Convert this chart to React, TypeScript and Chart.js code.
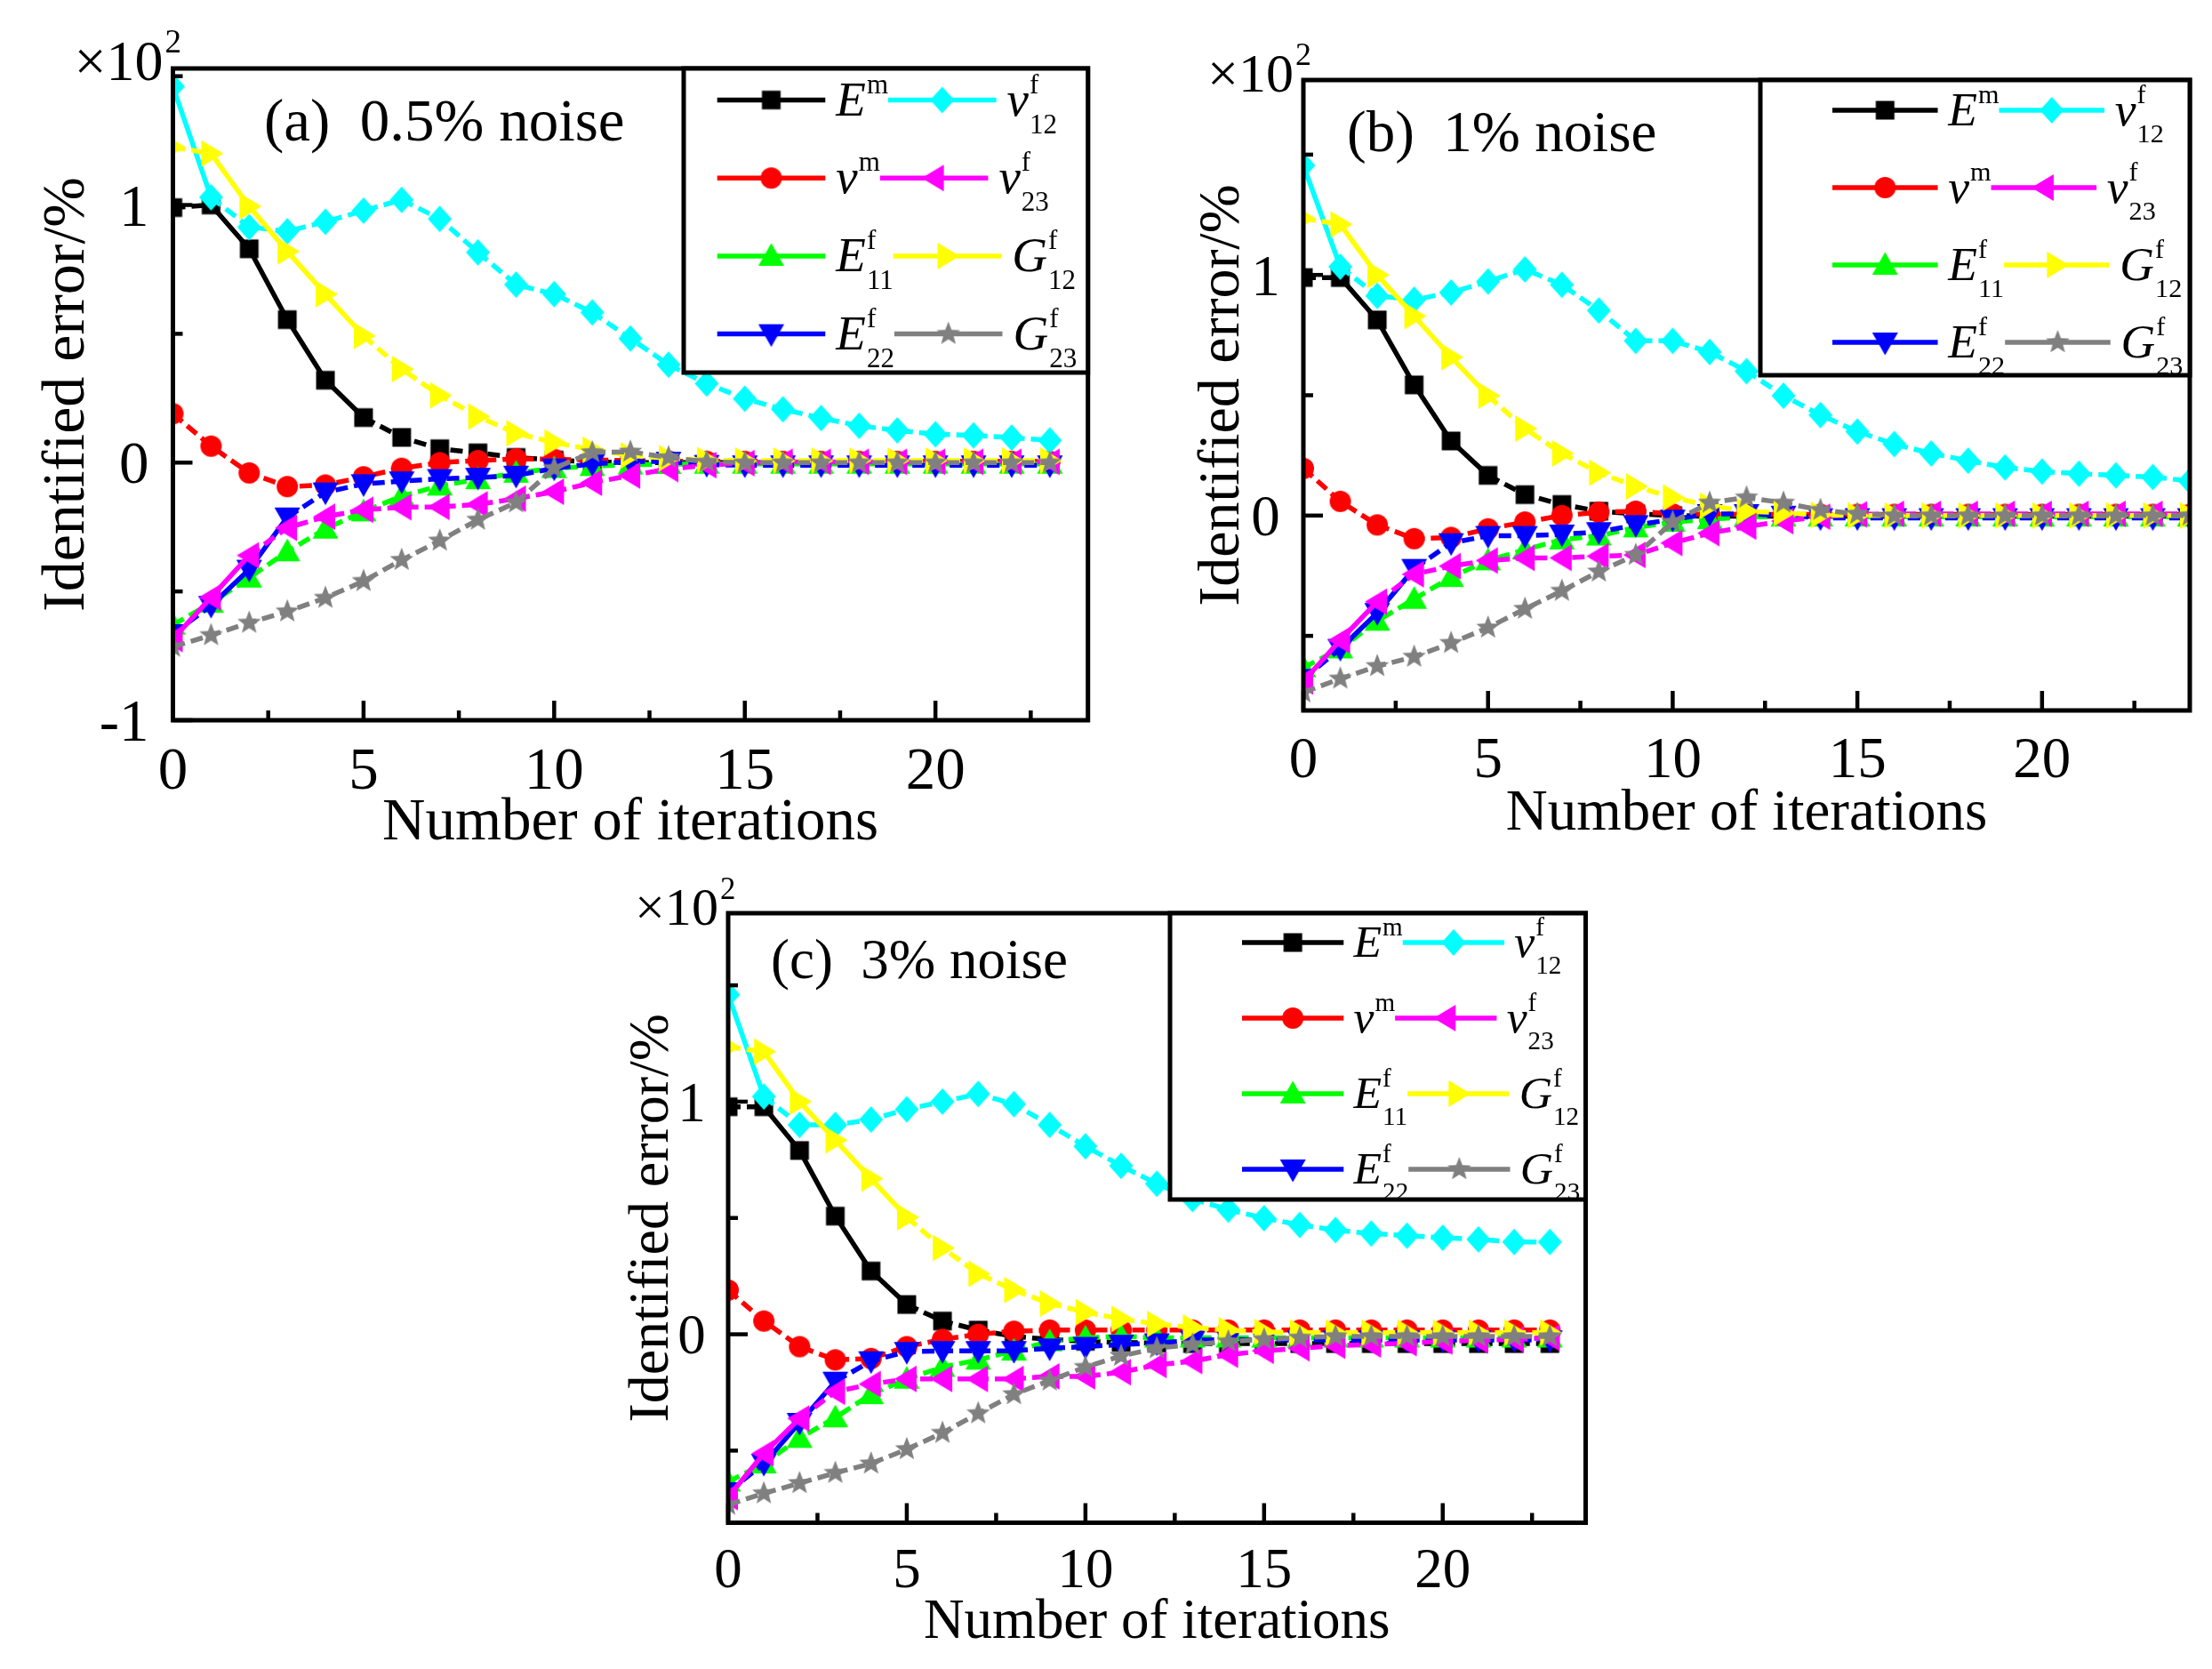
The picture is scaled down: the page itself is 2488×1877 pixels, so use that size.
import React, { useEffect, useRef } from 'react';
import { Chart, registerables } from 'chart.js';

Chart.register(...registerables);

const SERIF = '"Liberation Serif", "Times New Roman", Times, serif';

// ---------------- data ----------------
const itersA = [0, 1, 2, 3, 4, 5, 6, 7, 8, 9, 10, 11, 12, 13, 14, 15, 16, 17, 18, 19, 20, 21, 22, 23];
const itersB = [0, 1, 2, 3, 4, 5, 6, 7, 8, 9, 10, 11, 12, 13, 14, 15, 16, 17, 18, 19, 20, 21, 22, 23, 24];
const itersC = [0, 1, 2, 3, 4, 5, 6, 7, 8, 9, 10, 11, 12, 13, 14, 15, 16, 17, 18, 19, 20, 21, 22, 23];

// (a) 0.5% noise
const A_Em = [0.99, 1.0, 0.83, 0.555, 0.32, 0.175, 0.098, 0.054, 0.038, 0.02, 0.01, 0.003, 0.0, 0.0, 0.0, 0.0, 0.0, 0.0, 0.0, 0.0, 0.0, 0.0, 0.0, 0.0];
const A_vm = [0.19, 0.064, -0.04, -0.093, -0.087, -0.055, -0.022, 0.0, 0.008, 0.015, 0.013, 0.01, 0.008, 0.006, 0.005, 0.005, 0.005, 0.005, 0.005, 0.005, 0.005, 0.005, 0.005, 0.005];
const A_E11 = [-0.63, -0.545, -0.447, -0.345, -0.257, -0.19, -0.13, -0.09, -0.065, -0.04, -0.022, -0.014, -0.008, -0.006, -0.005, -0.005, -0.005, -0.005, -0.005, -0.005, -0.005, -0.005, -0.005, -0.005];
const A_E22 = [-0.665, -0.555, -0.415, -0.212, -0.115, -0.083, -0.072, -0.063, -0.058, -0.05, -0.022, -0.005, 0.004, 0.004, -0.008, -0.01, -0.01, -0.01, -0.01, -0.01, -0.01, -0.01, -0.01, -0.01];
const A_v12 = [1.46, 1.03, 0.914, 0.898, 0.935, 0.978, 1.02, 0.946, 0.816, 0.691, 0.654, 0.583, 0.482, 0.38, 0.307, 0.248, 0.207, 0.173, 0.143, 0.125, 0.11, 0.106, 0.097, 0.086];
const A_v23 = [-0.685, -0.523, -0.36, -0.253, -0.21, -0.183, -0.173, -0.172, -0.162, -0.14, -0.113, -0.078, -0.05, -0.025, -0.01, -0.002, 0.003, 0.003, 0.003, 0.003, 0.003, 0.003, 0.003, 0.003];
const A_G12 = [1.225, 1.2, 0.995, 0.82, 0.654, 0.492, 0.363, 0.261, 0.179, 0.114, 0.078, 0.05, 0.028, 0.017, 0.01, 0.008, 0.008, 0.008, 0.008, 0.008, 0.008, 0.008, 0.008, 0.008];
const A_G23 = [-0.715, -0.67, -0.622, -0.578, -0.525, -0.46, -0.378, -0.303, -0.222, -0.155, -0.022, 0.04, 0.042, 0.02, 0.003, 0.0, 0.0, 0.0, 0.0, 0.0, 0.0, 0.0, 0.0, 0.0];

// (b) 1% noise
const B_Em = [0.989, 0.989, 0.813, 0.543, 0.31, 0.167, 0.087, 0.046, 0.018, 0.007, 0.0, -0.003, -0.003, -0.003, -0.003, -0.003, -0.003, -0.003, -0.003, -0.003, -0.003, -0.003, -0.003, -0.003, -0.003];
const B_vm = [0.196, 0.059, -0.039, -0.096, -0.091, -0.055, -0.027, 0.0, 0.014, 0.018, 0.007, 0.005, 0.005, 0.005, 0.005, 0.005, 0.005, 0.005, 0.005, 0.005, 0.005, 0.005, 0.005, 0.005, 0.005];
const B_E11 = [-0.632, -0.553, -0.438, -0.347, -0.256, -0.187, -0.142, -0.1, -0.084, -0.05, -0.027, -0.016, -0.005, -0.005, -0.005, -0.005, -0.005, -0.005, -0.005, -0.005, -0.005, -0.005, -0.005, -0.005, -0.005];
const B_E22 = [-0.678, -0.553, -0.404, -0.221, -0.114, -0.084, -0.084, -0.078, -0.068, -0.039, -0.016, 0.007, 0.007, 0.0, -0.01, -0.01, -0.01, -0.01, -0.01, -0.01, -0.01, -0.01, -0.01, -0.01, -0.01];
const B_v12 = [1.455, 1.034, 0.913, 0.897, 0.927, 0.973, 1.023, 0.959, 0.852, 0.726, 0.726, 0.68, 0.6, 0.498, 0.418, 0.349, 0.297, 0.258, 0.228, 0.2, 0.183, 0.174, 0.167, 0.16, 0.144];
const B_v23 = [-0.689, -0.518, -0.358, -0.244, -0.21, -0.187, -0.176, -0.176, -0.169, -0.164, -0.114, -0.073, -0.046, -0.023, -0.005, 0.005, 0.007, 0.007, 0.007, 0.007, 0.007, 0.007, 0.007, 0.007, 0.007];
const B_G12 = [1.235, 1.21, 1.0, 0.829, 0.658, 0.498, 0.361, 0.258, 0.178, 0.121, 0.075, 0.041, 0.018, 0.011, 0.003, 0.0, 0.0, 0.0, 0.0, 0.0, 0.0, 0.0, 0.0, 0.0, 0.0];
const B_G23 = [-0.735, -0.678, -0.626, -0.587, -0.53, -0.466, -0.388, -0.313, -0.233, -0.164, -0.027, 0.053, 0.075, 0.053, 0.023, 0.007, 0.0, 0.0, 0.0, 0.0, 0.0, 0.0, 0.0, 0.0, 0.0];

// (c) 3% noise
const C_Em = [0.978, 0.978, 0.79, 0.508, 0.272, 0.128, 0.057, 0.018, -0.009, -0.022, -0.03, -0.035, -0.038, -0.04, -0.04, -0.04, -0.04, -0.04, -0.04, -0.04, -0.04, -0.04, -0.04, -0.04];
const C_vm = [0.19, 0.057, -0.053, -0.11, -0.104, -0.053, -0.022, 0.0, 0.013, 0.018, 0.018, 0.018, 0.018, 0.018, 0.018, 0.018, 0.018, 0.018, 0.018, 0.018, 0.018, 0.018, 0.018, 0.018];
const C_E11 = [-0.634, -0.556, -0.446, -0.358, -0.258, -0.192, -0.141, -0.11, -0.071, -0.031, -0.015, -0.009, -0.015, -0.015, -0.015, -0.015, -0.015, -0.015, -0.015, -0.015, -0.015, -0.015, -0.015, -0.015];
const C_E22 = [-0.678, -0.556, -0.38, -0.203, -0.115, -0.075, -0.071, -0.071, -0.071, -0.06, -0.053, -0.044, -0.038, -0.026, -0.022, -0.025, -0.025, -0.025, -0.025, -0.025, -0.025, -0.025, -0.025, -0.025];
const C_v12 = [1.46, 1.022, 0.9, 0.9, 0.923, 0.967, 1.0, 1.033, 0.989, 0.9, 0.808, 0.724, 0.647, 0.581, 0.536, 0.499, 0.47, 0.448, 0.433, 0.424, 0.415, 0.408, 0.397, 0.397];
const C_v23 = [-0.7, -0.512, -0.362, -0.247, -0.214, -0.192, -0.192, -0.192, -0.192, -0.181, -0.181, -0.163, -0.132, -0.115, -0.088, -0.071, -0.06, -0.049, -0.044, -0.038, -0.031, -0.026, -0.022, -0.015];
const C_G12 = [1.235, 1.215, 1.0, 0.834, 0.669, 0.503, 0.371, 0.26, 0.19, 0.132, 0.095, 0.066, 0.044, 0.029, 0.018, 0.01, 0.007, 0.007, 0.007, 0.007, 0.007, 0.007, 0.007, 0.007];
const C_G23 = [-0.733, -0.684, -0.64, -0.596, -0.556, -0.494, -0.424, -0.34, -0.258, -0.199, -0.141, -0.093, -0.06, -0.044, -0.031, -0.022, -0.015, -0.009, -0.009, -0.009, -0.009, -0.009, -0.009, -0.009];

// ticks
const xMajorTicks = [0, 5, 10, 15, 20];
const xMinorTicks = [2.5, 7.5, 12.5, 17.5, 22.5];
const xTickLabels = ['0', '5', '10', '15', '20'];
const yMajorTicksA = [-1, 0, 1];
const yTickLabelsA = ['-1', '0', '1'];
const yMajorTicksBC = [0, 1];
const yTickLabelsBC = ['0', '1'];
const yMinorTicks = [-0.5, 0.5, 1.5];

const xTitle = 'Number of iterations';
const yTitle = 'Identified error/%';

// ---------------- styles ----------------
type Key = 'Em' | 'vm' | 'E11' | 'E22' | 'v12' | 'v23' | 'G12' | 'G23';
interface SeriesStyle { key: Key; color: string; marker: string; main: string; sup: string; sub: string; }

// plot order (later = on top)
const seriesStyles: SeriesStyle[] = [
  { key: 'Em', color: '#000000', marker: 'square', main: 'E', sup: 'm', sub: '' },
  { key: 'vm', color: '#FF0000', marker: 'circle', main: 'v', sup: 'm', sub: '' },
  { key: 'E11', color: '#00FF00', marker: 'up', main: 'E', sup: 'f', sub: '11' },
  { key: 'E22', color: '#0000FF', marker: 'down', main: 'E', sup: 'f', sub: '22' },
  { key: 'v12', color: '#00FFFF', marker: 'diamond', main: 'v', sup: 'f', sub: '12' },
  { key: 'v23', color: '#FF00FF', marker: 'left', main: 'v', sup: 'f', sub: '23' },
  { key: 'G12', color: '#FFFF00', marker: 'right', main: 'G', sup: 'f', sub: '12' },
  { key: 'G23', color: '#808080', marker: 'star', main: 'G', sup: 'f', sub: '23' },
];

const legendRows: Key[][] = [['Em', 'v12'], ['vm', 'v23'], ['E11', 'G12'], ['E22', 'G23']];

function makeMarker(kind: string, color: string): HTMLCanvasElement {
  const size = 34;
  const c = document.createElement('canvas');
  c.width = size;
  c.height = size;
  const g = c.getContext('2d') as CanvasRenderingContext2D;
  g.fillStyle = color;
  g.translate(size / 2, size / 2);
  g.beginPath();
  switch (kind) {
    case 'square': g.rect(-10.5, -10.5, 21, 21); break;
    case 'circle': g.arc(0, 0, 12, 0, Math.PI * 2); break;
    case 'up': g.moveTo(0, -14.5); g.lineTo(14.5, 11); g.lineTo(-14.5, 11); break;
    case 'down': g.moveTo(0, 14.5); g.lineTo(14.5, -11); g.lineTo(-14.5, -11); break;
    case 'left': g.moveTo(-14, 0); g.lineTo(11, -15); g.lineTo(11, 15); break;
    case 'right': g.moveTo(14, 0); g.lineTo(-11, -15); g.lineTo(-11, 15); break;
    case 'diamond': g.moveTo(0, -15); g.lineTo(13.5, 0); g.lineTo(0, 15); g.lineTo(-13.5, 0); break;
    case 'star':
      for (let i = 0; i < 10; i++) {
        const r = i % 2 === 0 ? 14 : 6;
        const a = -Math.PI / 2 + (i * Math.PI) / 5;
        if (i === 0) g.moveTo(r * Math.cos(a), r * Math.sin(a));
        else g.lineTo(r * Math.cos(a), r * Math.sin(a));
      }
      break;
  }
  g.closePath();
  g.fill();
  return c;
}

// ---------------- panel layout ----------------
interface PanelCfg {
  id: string;
  cx: number; cy: number; cw: number; ch: number;
  frame: { l: number; t: number; r: number; b: number };
  xMax: number; yMin: number; yMax: number;
  s: number; ls: number;
  leg: { l: number; b: number; x0: number; row0: number; gap: number };
  label: string; labelX: number; labelY: number;
  yTitleX: number; xTitleDy: number;
  iters: number[];
  values: Record<Key, number[]>;
  yMajor: number[]; yLabels: string[];
}

const panels: PanelCfg[] = [
  {
    id: 'a', cx: 0, cy: 0, cw: 1250, ch: 980,
    frame: { l: 194.5, t: 77, r: 1223.7, b: 810 },
    xMax: 24, yMin: -1, yMax: 1.53, s: 1, ls: 1,
    leg: { l: 769, b: 419, x0: 806.7, row0: 35.5, gap: 87.7 },
    label: '(a)  0.5% noise', labelX: 297, labelY: 158,
    yTitleX: 94, xTitleDy: 134,
    iters: itersA,
    values: { Em: A_Em, vm: A_vm, E11: A_E11, E22: A_E22, v12: A_v12, v23: A_v23, G12: A_G12, G23: A_G23 },
    yMajor: yMajorTicksA, yLabels: yTickLabelsA,
  },
  {
    id: 'b', cx: 1290, cy: 0, cw: 1198, ch: 980,
    frame: { l: 1466, t: 90, r: 2463, b: 799 },
    xMax: 24, yMin: -0.81, yMax: 1.81, s: 0.97, ls: 0.975,
    leg: { l: 1980, b: 422, x0: 2061, row0: 34, gap: 87 },
    label: '(b)  1% noise', labelX: 1515, labelY: 170,
    yTitleX: 1393, xTitleDy: 134,
    iters: itersB,
    values: { Em: B_Em, vm: B_vm, E11: B_E11, E22: B_E22, v12: B_v12, v23: B_v23, G12: B_G12, G23: B_G23 },
    yMajor: yMajorTicksBC, yLabels: yTickLabelsBC,
  },
  {
    id: 'c', cx: 650, cy: 960, cw: 1200, ch: 917,
    frame: { l: 819, t: 1027, r: 1783.5, b: 1712.5 },
    xMax: 24, yMin: -0.81, yMax: 1.81, s: 0.94, ls: 0.94,
    leg: { l: 1316, b: 1349, x0: 1397, row0: 33, gap: 85 },
    label: '(c)  3% noise', labelX: 867, labelY: 1100,
    yTitleX: 751, xTitleDy: 129,
    iters: itersC,
    values: { Em: C_Em, vm: C_vm, E11: C_E11, E22: C_E22, v12: C_v12, v23: C_v23, G12: C_G12, G23: C_G23 },
    yMajor: yMajorTicksBC, yLabels: yTickLabelsBC,
  },
];

function drawRich(ctx: CanvasRenderingContext2D, st: SeriesStyle, x: number, base: number, k: number): number {
  ctx.textAlign = 'left';
  ctx.textBaseline = 'alphabetic';
  ctx.fillStyle = '#000';
  ctx.font = `italic ${55 * k}px ${SERIF}`;
  ctx.fillText(st.main, x, base);
  const w = ctx.measureText(st.main).width;
  ctx.font = `${31 * k}px ${SERIF}`;
  const sx = x + w + 1 * k;
  let ws = 0;
  let wb = 0;
  if (st.sup) { ctx.fillText(st.sup, sx, base - 25 * k); ws = ctx.measureText(st.sup).width; }
  if (st.sub) { ctx.fillText(st.sub, sx, base + 20 * k); wb = ctx.measureText(st.sub).width; }
  return w + 1 * k + Math.max(ws, wb);
}

function Panel({ cfg, markers }: { cfg: PanelCfg; markers: Record<string, HTMLCanvasElement> }) {
  const ref = useRef<HTMLCanvasElement | null>(null);
  useEffect(() => {
    const canvas = ref.current;
    if (!canvas) return;
    const s = cfg.s;
    const thr = 58 * s;
    const datasets = seriesStyles.map((st, p) => ({
      label: st.key,
      data: cfg.iters.map((x, i) => ({ x, y: cfg.values[st.key][i] })),
      borderColor: st.color,
      backgroundColor: st.color,
      borderWidth: 5.5,
      pointStyle: markers[st.key],
      pointRadius: 12,
      pointHoverRadius: 12,
      showLine: true,
      tension: 0,
      clip: 0,
      order: seriesStyles.length - 1 - p,
      segment: {
        borderDash: (c: any) => {
          const len = Math.hypot(c.p1.x - c.p0.x, c.p1.y - c.p0.y);
          return len > thr ? [] : [14, 7];
        },
      },
    }));

    const deco = {
      id: 'deco' + cfg.id,
      afterDatasetsDraw(chart: any) {
        const ctx: CanvasRenderingContext2D = chart.ctx;
        const ca = chart.chartArea;
        const xs = chart.scales.x;
        const ys = chart.scales.y;
        ctx.save();
        // frame
        ctx.strokeStyle = '#000';
        ctx.lineWidth = 5;
        ctx.setLineDash([]);
        ctx.lineJoin = 'miter';
        ctx.strokeRect(ca.left, ca.top, ca.right - ca.left, ca.bottom - ca.top);
        // ticks (inward)
        ctx.lineWidth = 4.5;
        ctx.lineCap = 'butt';
        const tick = (x1: number, y1: number, x2: number, y2: number) => {
          ctx.beginPath(); ctx.moveTo(x1, y1); ctx.lineTo(x2, y2); ctx.stroke();
        };
        xMajorTicks.forEach((v) => { const px = xs.getPixelForValue(v); tick(px, ca.bottom, px, ca.bottom - 22); });
        xMinorTicks.forEach((v) => { const px = xs.getPixelForValue(v); tick(px, ca.bottom, px, ca.bottom - 11); });
        cfg.yMajor.forEach((v) => { const py = ys.getPixelForValue(v); tick(ca.left, py, ca.left + 22, py); });
        yMinorTicks.forEach((v) => {
          if (v <= cfg.yMin || v >= cfg.yMax) return;
          const py = ys.getPixelForValue(v); tick(ca.left, py, ca.left + 11, py);
        });
        // tick labels
        ctx.fillStyle = '#000';
        ctx.font = `${67 * s}px ${SERIF}`;
        ctx.textBaseline = 'alphabetic';
        ctx.textAlign = 'center';
        xTickLabels.forEach((t, i) => ctx.fillText(t, xs.getPixelForValue(xMajorTicks[i]), ca.bottom + 77 * s));
        ctx.textAlign = 'right';
        cfg.yLabels.forEach((t, i) => ctx.fillText(t, ca.left - 27 * s, ys.getPixelForValue(cfg.yMajor[i]) + 23 * s));
        // axis titles
        ctx.textAlign = 'center';
        ctx.fillText(xTitle, (ca.left + ca.right) / 2, ca.bottom + cfg.xTitleDy);
        ctx.save();
        ctx.font = `${68 * s}px ${SERIF}`;
        ctx.translate(cfg.yTitleX - cfg.cx, (ca.top + ca.bottom) / 2);
        ctx.rotate(-Math.PI / 2);
        ctx.fillText(yTitle, 0, 0);
        ctx.restore();
        // x10^2
        ctx.font = `${64 * s}px ${SERIF}`;
        ctx.textAlign = 'right';
        ctx.fillText('\u00D710', ca.left - 11, ca.top + 13);
        ctx.font = `${37 * s}px ${SERIF}`;
        ctx.textAlign = 'left';
        ctx.fillText('2', ca.left - 9, ca.top + 13 - 31 * s);
        // panel label
        ctx.font = `${67 * s}px ${SERIF}`;
        ctx.fillText(cfg.label, cfg.labelX - cfg.cx, cfg.labelY - cfg.cy);
        // legend
        const L = cfg.leg;
        const k = cfg.ls;
        const bl = L.l - cfg.cx;
        const bt = ca.top;
        const br = ca.right;
        const bb = L.b - cfg.cy;
        ctx.fillStyle = '#fff';
        ctx.fillRect(bl, bt, br - bl, bb - bt);
        ctx.strokeStyle = '#000';
        ctx.lineWidth = 5;
        ctx.strokeRect(bl, bt, br - bl, bb - bt);
        legendRows.forEach((row, r) => {
          const y = bt + L.row0 + r * L.gap;
          let x = L.x0 - cfg.cx;
          row.forEach((key) => {
            const st = seriesStyles.find((q) => q.key === key) as SeriesStyle;
            const len = 121.6 * k;
            ctx.strokeStyle = st.color;
            ctx.lineWidth = 5.5;
            ctx.beginPath(); ctx.moveTo(x, y); ctx.lineTo(x + len, y); ctx.stroke();
            const m = markers[key];
            ctx.drawImage(m, x + len / 2 - m.width / 2, y - m.height / 2);
            const lx = x + len + 12 * k;
            const w = drawRich(ctx, st, lx, y + 17 * k, k);
            x = lx + w;
          });
        });
        ctx.restore();
      },
    };

    const f = cfg.frame;
    const chart = new Chart(canvas, {
      type: 'line',
      data: { datasets: datasets as any },
      options: {
        responsive: false,
        animation: false,
        devicePixelRatio: 1,
        events: [],
        layout: {
          padding: {
            left: f.l - cfg.cx,
            top: f.t - cfg.cy,
            right: cfg.cx + cfg.cw - f.r,
            bottom: cfg.cy + cfg.ch - f.b,
          },
        },
        plugins: { legend: { display: false }, tooltip: { enabled: false }, title: { display: false } },
        scales: {
          x: { type: 'linear', min: 0, max: cfg.xMax, display: false },
          y: { type: 'linear', min: cfg.yMin, max: cfg.yMax, display: false },
        },
      } as any,
      plugins: [deco],
    });
    return () => chart.destroy();
  }, [cfg, markers]);

  return (
    <canvas
      ref={ref}
      width={cfg.cw}
      height={cfg.ch}
      style={{ position: 'absolute', left: cfg.cx, top: cfg.cy, width: cfg.cw, height: cfg.ch }}
    />
  );
}

export default function App() {
  const markersRef = useRef<Record<string, HTMLCanvasElement> | null>(null);
  if (!markersRef.current && typeof document !== 'undefined') {
    const m: Record<string, HTMLCanvasElement> = {};
    seriesStyles.forEach((st) => { m[st.key] = makeMarker(st.marker, st.color); });
    markersRef.current = m;
  }
  const markers = markersRef.current as Record<string, HTMLCanvasElement>;
  return (
    <div style={{ position: 'absolute', left: 0, top: 0, width: 2488, height: 1877, background: '#fff', overflow: 'hidden' }}>
      {panels.map((p) => (
        <Panel key={p.id} cfg={p} markers={markers} />
      ))}
    </div>
  );
}
